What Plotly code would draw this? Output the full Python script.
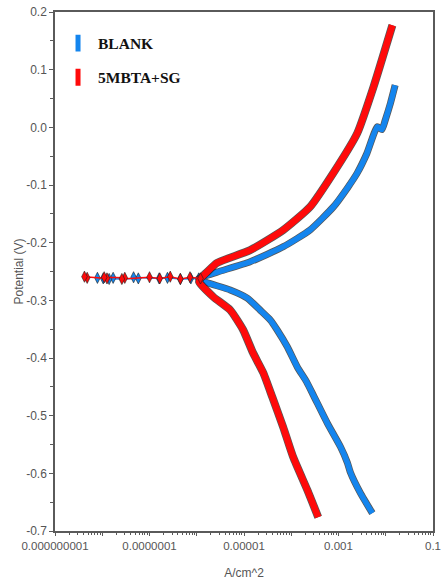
import plotly.graph_objects as go

# ---- data (current density in A/cm^2, potential in V) ----
blank_anodic_i = [1.1e-6, 2.7e-6, 1.35e-5, 6.8e-5, 2.5e-4, 7.8e-4, 1.55e-3, 2.5e-3, 4.0e-3, 6.6e-3, 8.3e-3, 9.8e-3, 1.26e-2, 1.58e-2]
blank_anodic_E = [-0.262, -0.251, -0.233, -0.207, -0.178, -0.138, -0.105, -0.079, -0.045, 0.001, -0.004, 0.013, 0.042, 0.073]
blank_cathodic_i = [1.17e-6, 5.1e-6, 1.17e-5, 2.2e-5, 3.6e-5, 5.0e-5, 8.3e-5, 1.35e-4, 2.1e-4, 3.0e-4, 5.8e-4, 1.1e-3, 1.55e-3, 1.8e-3, 2.9e-3, 5.2e-3]
blank_cathodic_E = [-0.265, -0.282, -0.296, -0.317, -0.334, -0.351, -0.381, -0.416, -0.441, -0.466, -0.513, -0.554, -0.582, -0.599, -0.634, -0.669]
blank_noise_i = [7.9e-9, 1.05e-8, 1.7e-8, 1.4e-8, 5.8e-8, 4.6e-8, 1.6e-7, 2.4e-7, 4.5e-7, 7.5e-7, 1.1e-6]
blank_noise_E = [-0.261, -0.262, -0.261, -0.263, -0.262, -0.260, -0.262, -0.261, -0.263, -0.262, -0.262]

sg_anodic_i = [1.2e-6, 1.6e-6, 2.7e-6, 1.35e-5, 6.8e-5, 2.5e-4, 7.8e-4, 2.5e-3, 5.5e-3, 1.38e-2]
sg_anodic_E = [-0.262, -0.252, -0.235, -0.213, -0.178, -0.138, -0.079, -0.010, 0.070, 0.177]
sg_cathodic_i = [1.12e-6, 2.24e-6, 5.13e-6, 9.55e-6, 1.55e-5, 2.57e-5, 3.98e-5, 6.76e-5, 1.1e-4, 2.19e-4, 3.72e-4]
sg_cathodic_E = [-0.268, -0.294, -0.317, -0.351, -0.391, -0.426, -0.468, -0.520, -0.572, -0.629, -0.676]
sg_noise_i = [4.8e-9, 4.2e-9, 1.26e-8, 1.1e-8, 3.0e-8, 2.6e-8, 1.0e-7, 1.65e-7, 2.75e-7, 4.5e-7, 7.2e-7, 1.2e-6]
sg_noise_E = [-0.261, -0.259, -0.262, -0.260, -0.261, -0.263, -0.260, -0.262, -0.259, -0.263, -0.260, -0.262]

series_names = ["BLANK", "5MBTA+SG"]
series_colors = ["#1485EE", "#FF0A0A"]

x_tick_vals = [1e-9, 1e-8, 1e-7, 1e-6, 1e-5, 1e-4, 1e-3, 1e-2, 1e-1]
x_tick_text = ["0.000000001", "", "0.0000001", "", "0.00001", "", "0.001", "", "0.1"]
y_tick_vals = [0.2, 0.1, 0.0, -0.1, -0.2, -0.3, -0.4, -0.5, -0.6, -0.7]
y_tick_text = ["0.2", "0.1", "0.0", "-0.1", "-0.2", "-0.3", "-0.4", "-0.5", "-0.6", "-0.7"]

fig = go.Figure()


def add_series(ai, aE, ci, cE, ni, nE, color, width, name, group):
    xs = list(reversed(ci)) + ai
    ys = list(reversed(cE)) + aE
    # dark jagged edge around the thick curve
    fig.add_trace(go.Scatter(x=xs, y=ys, mode="lines", showlegend=False,
                             line=dict(color="rgba(15,15,15,0.7)", width=width + 1.5,
                                       shape="spline", smoothing=0.5),
                             hoverinfo="skip"))
    fig.add_trace(go.Scatter(x=xs, y=ys, mode="lines", showlegend=False,
                             line=dict(color=color, width=width, shape="spline", smoothing=0.5),
                             name=name))
    fig.add_trace(go.Scatter(x=ni, y=nE, mode="lines+markers", showlegend=False,
                             line=dict(color=color, width=1.5),
                             marker=dict(color=color, size=8, symbol="diamond-tall",
                                         line=dict(color="rgba(30,30,30,0.6)", width=1)),
                             name=name))
    # legend entry
    fig.add_trace(go.Scatter(x=[None], y=[None], mode="markers", name=name, legendgroup=group,
                             marker=dict(symbol="line-ns", size=12, color=color,
                                         line=dict(color=color, width=5))))


add_series(blank_anodic_i, blank_anodic_E, blank_cathodic_i, blank_cathodic_E,
           blank_noise_i, blank_noise_E, series_colors[0], 5.5, series_names[0], "g1")
add_series(sg_anodic_i, sg_anodic_E, sg_cathodic_i, sg_cathodic_E,
           sg_noise_i, sg_noise_E, series_colors[1], 6.5, series_names[1], "g2")

axis_color = "#5a5a5a"
fig.update_layout(
    width=443, height=583,
    margin=dict(l=55, r=10, t=12, b=52),
    paper_bgcolor="white", plot_bgcolor="white",
    font=dict(family="Liberation Sans, Arial, sans-serif", size=12, color="#555555"),
    legend=dict(x=0.008, y=0.972, xanchor="left", yanchor="top",
                font=dict(family="Liberation Serif, Times New Roman, serif", size=15.5,
                          color="#111111", weight="bold"),
                bgcolor="rgba(0,0,0,0)", tracegroupgap=11, itemsizing="trace", itemwidth=30),
    xaxis=dict(type="log", range=[-9, -1], tickmode="array", tickvals=x_tick_vals, ticktext=x_tick_text,
               automargin=False,
               showgrid=False, zeroline=False, showline=True, linecolor=axis_color, linewidth=1.5,
               mirror=True, ticks="outside", ticklen=3, tickcolor=axis_color,
               minor=dict(ticks="outside", ticklen=2, tickcolor=axis_color, dtick="D1", showgrid=False),
               tickfont=dict(size=11.5, color="#555555"),
               title=dict(text="A/cm^2", font=dict(size=12, color="#555555"), standoff=18)),
    yaxis=dict(range=[-0.7, 0.2], tickmode="array", tickvals=y_tick_vals, ticktext=y_tick_text,
               automargin=False,
               showgrid=False, zeroline=False, showline=True, linecolor=axis_color, linewidth=1.5,
               mirror=True, ticks="outside", ticklen=4, tickcolor=axis_color,
               minor=dict(ticks="outside", ticklen=3, tickcolor=axis_color, dtick=0.05, showgrid=False),
               tickfont=dict(size=12, color="#555555"),
               title=dict(text="Potential (V)", font=dict(size=12, color="#555555"), standoff=0)),
)

fig.write_html("out.html", config={"displayModeBar": False},
               post_script="document.body.style.margin='0';")
